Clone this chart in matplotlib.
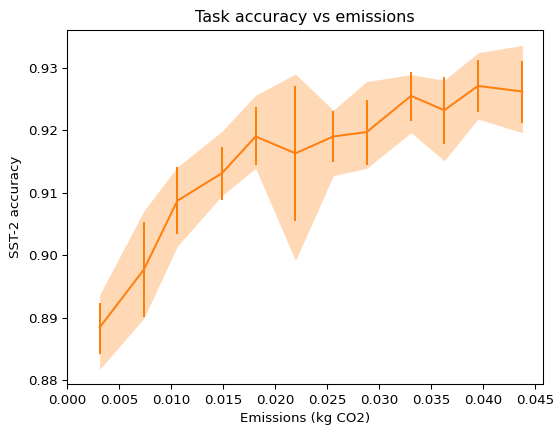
import numpy as np
import matplotlib
matplotlib.use("Agg")
import matplotlib.pyplot as plt

# emissions (kg CO2) and SST-2 accuracy
emissions = [0.00314, 0.00740, 0.01061, 0.01489, 0.01814, 0.02197,
             0.02561, 0.02882, 0.03308, 0.03628, 0.03952, 0.04378]
acc_mean = [0.8884, 0.8977, 0.9087, 0.9131, 0.9190, 0.9163,
            0.9190, 0.9197, 0.9255, 0.9232, 0.9271, 0.9262]
err_top = [0.8924, 0.9053, 0.9141, 0.9173, 0.9237, 0.9271,
           0.9231, 0.9248, 0.9293, 0.9285, 0.9312, 0.9311]
err_bot = [0.8841, 0.8901, 0.9033, 0.9088, 0.9144, 0.9055,
           0.9149, 0.9145, 0.9215, 0.9178, 0.9229, 0.9212]
band_top = [0.8936, 0.9071, 0.9141, 0.9198, 0.9256, 0.9290,
            0.9232, 0.9278, 0.9289, 0.9280, 0.9324, 0.9336]
band_bot = [0.8817, 0.8899, 0.9014, 0.9095, 0.9139, 0.8991,
            0.9127, 0.9139, 0.9196, 0.9151, 0.9218, 0.9196]
xtick_vals = [0.000, 0.005, 0.010, 0.015, 0.020, 0.025, 0.030, 0.035, 0.040, 0.045]

x = np.array(emissions)
y = np.array(acc_mean)
yerr = [y - np.array(err_bot), np.array(err_top) - y]

fig = plt.figure(figsize=(555/96, 426/96), dpi=96)
ax = fig.add_axes([67/555, 41.7/426, 476.3/555, 354.6/426])

ax.fill_between(x, band_bot, band_top, color='C1', alpha=0.3, linewidth=0)
ax.errorbar(x, y, yerr=yerr, color='C1')

ax.set_xticks(xtick_vals)
ax.set_xticklabels(["%.3f" % v for v in xtick_vals])
ax.set_xlim(0, 0.0458)
ax.set_ylim(0.8793, 0.9361)
ax.set_title("Task accuracy vs emissions")
ax.set_xlabel("Emissions (kg CO2)")
ax.set_ylabel("SST-2 accuracy")

plt.savefig("out.png", dpi=96)
